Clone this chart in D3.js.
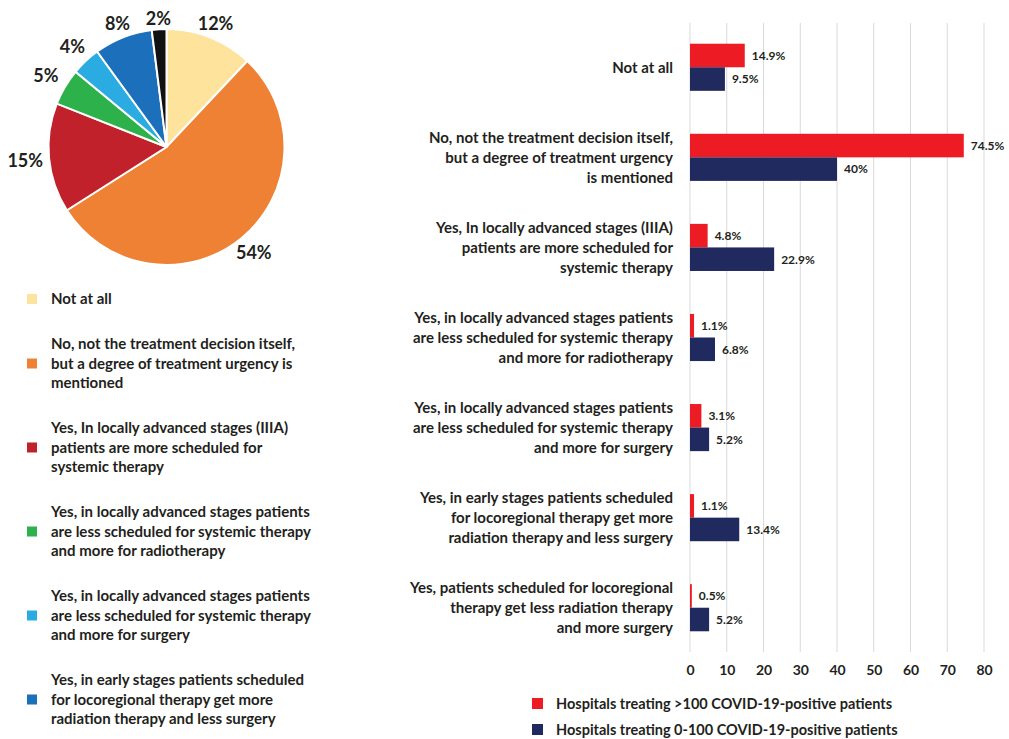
<!DOCTYPE html>
<html>
<head>
<meta charset="utf-8">
<script src="https://cdn.jsdelivr.net/npm/d3@7/dist/d3.min.js"></script>
<style>
  html, body { margin: 0; padding: 0; background: #fff; }
  svg { display: block; }
  text { font-family: Lato, "Open Sans", sans-serif; font-weight: 700; fill: #231f20; }
</style>
</head>
<body>
<svg id="chart" width="1009" height="739"></svg>
<script>
// ---- Pie: share of all responses ----
const pieCategories = [
  ["Not at all"],
  ["No, not the treatment decision itself,", "but a degree of treatment urgency is", "mentioned"],
  ["Yes, In locally advanced stages (IIIA)", "patients are more scheduled for", "systemic therapy"],
  ["Yes, in locally advanced stages patients", "are less scheduled for systemic therapy", "and more for radiotherapy"],
  ["Yes, in locally advanced stages patients", "are less scheduled for systemic therapy", "and more for surgery"],
  ["Yes, in early stages patients scheduled", "for locoregional therapy get more", "radiation therapy and less surgery"],
  ["Yes, patients scheduled for locoregional", "therapy get less radiation therapy", "and more surgery"]
];
const pieValues = [12, 54, 15, 5, 4, 8, 2];
const pieColors = ["#fde39b", "#ee8133", "#c1212a", "#2db24b", "#2aabe2", "#1c6fba", "#111111"];

// ---- Bars: answers split by hospital COVID-19 load ----
const barCategories = [
  ["Not at all"],
  ["No, not the treatment decision itself,", "but a degree of treatment urgency", "is mentioned"],
  ["Yes, In locally advanced stages (IIIA)", "patients are more scheduled for", "systemic therapy"],
  ["Yes, in locally advanced stages patients", "are less scheduled for systemic therapy", "and more for radiotherapy"],
  ["Yes, in locally advanced stages patients", "are less scheduled for systemic therapy", "and more for surgery"],
  ["Yes, in early stages patients scheduled", "for locoregional therapy get more", "radiation therapy and less surgery"],
  ["Yes, patients scheduled for locoregional", "therapy get less radiation therapy", "and more surgery"]
];
const seriesNames = ["Hospitals treating >100 COVID-19-positive patients",
                     "Hospitals treating 0-100 COVID-19-positive patients"];
const highLoad = [14.9, 74.5, 4.8, 1.1, 3.1, 1.1, 0.5];
const lowLoad  = [9.5, 40, 22.9, 6.8, 5.2, 13.4, 5.2];
const seriesColors = ["#ed1c24", "#212a5e"];
const xTicks = [0, 10, 20, 30, 40, 50, 60, 70, 80];

const W = 1009, H = 739;
const svg = d3.select("#chart");

// ===== Pie =====
const cx = 166.5, cy = 147, radius = 118;
const pieGen = d3.pie().sort(null).value(d => d);
const arcs = pieGen(pieValues);
const arcGen = d3.arc().innerRadius(0).outerRadius(radius);
const pieG = svg.append("g").attr("transform", `translate(${cx},${cy})`);
pieG.selectAll("path").data(arcs).join("path")
  .attr("d", arcGen)
  .attr("fill", (d, i) => pieColors[i])
  .attr("stroke", "#fff")
  .attr("stroke-width", 2);

function labelPos(d) {
  const a = (d.startAngle + d.endAngle) / 2;
  const r = 128 + 14 * Math.abs(Math.sin(a));
  return [r * Math.sin(a), -r * Math.cos(a)];
}
pieG.selectAll("text.pct").data(arcs).join("text")
  .attr("class", "pct")
  .attr("text-anchor", "middle")
  .attr("dy", "0.36em")
  .style("font-size", "18px")
  .attr("x", d => labelPos(d)[0])
  .attr("y", d => labelPos(d)[1])
  .text(d => d.data + "%");

// Pie legend (entries that fall below the page edge are left out)
const lineH = 19.5;
let ly = 299;
const legG = svg.append("g");
pieCategories.forEach((lines, i) => {
  const lastLine = ly + (lines.length - 1) * lineH;
  if (lastLine + 8 <= H) {
    const g = legG.append("g");
    const mid = ly + (lines.length - 1) * lineH / 2;
    g.append("rect").attr("x", 27).attr("y", mid - 5).attr("width", 10).attr("height", 10)
      .attr("fill", pieColors[i]);
    const t = g.append("text").attr("x", 51).style("font-size", "15px");
    lines.forEach((s, k) => {
      t.append("tspan").attr("x", 51).attr("y", ly + k * lineH).attr("dy", "0.36em").text(s);
    });
  }
  ly += lines.length * lineH + 25.5;
});

// ===== Bars =====
const x = d3.scaleLinear().domain([0, 80]).range([690, 984]);
const y = d3.scaleBand().domain(d3.range(barCategories.length))
  .range([23, 652]).paddingInner(0.477).paddingOuter(0.23);
const ySub = d3.scaleBand().domain([0, 1]).range([0, y.bandwidth()]);

// gridlines
svg.append("g").selectAll("line").data(xTicks).join("line")
  .attr("x1", d => x(d)).attr("x2", d => x(d))
  .attr("y1", 23).attr("y2", 652)
  .attr("stroke", "#d9d9d9").attr("stroke-width", 1);

// axis labels
const axis = d3.axisBottom(x).tickValues(xTicks).tickSize(0).tickPadding(0);
const axG = svg.append("g").attr("transform", "translate(0,665)").call(axis);
axG.select(".domain").remove();
axG.selectAll("text").style("font-size", "14px").style("font-family", "Lato, sans-serif")
  .style("font-weight", "700").attr("fill", "#231f20");

const rows = barCategories.map((c, i) => ({ i, vals: [highLoad[i], lowLoad[i]] }));
const rowG = svg.append("g").selectAll("g").data(rows).join("g")
  .attr("transform", d => `translate(0,${y(d.i)})`);

rowG.selectAll("rect").data(d => d.vals.map((v, s) => ({ v, s }))).join("rect")
  .attr("x", x(0))
  .attr("y", d => ySub(d.s))
  .attr("width", d => x(d.v) - x(0))
  .attr("height", ySub.bandwidth())
  .attr("fill", d => seriesColors[d.s]);

rowG.selectAll("text.val").data(d => d.vals.map((v, s) => ({ v, s }))).join("text")
  .attr("class", "val")
  .attr("x", d => x(d.v) + 7)
  .attr("y", d => ySub(d.s) + ySub.bandwidth() / 2)
  .attr("dy", "0.36em")
  .style("font-size", "12px")
  .text(d => d.v + "%");

// category labels
rowG.append("text")
  .attr("text-anchor", "end")
  .style("font-size", "15px")
  .each(function (d) {
    const lines = barCategories[d.i];
    const t = d3.select(this);
    const c = y.bandwidth() / 2;
    lines.forEach((s, k) => {
      t.append("tspan").attr("x", 673)
        .attr("y", c + (k - (lines.length - 1) / 2) * 20)
        .attr("dy", "0.36em").text(s);
    });
  });

// bar legend
const blg = svg.append("g");
seriesNames.forEach((n, s) => {
  const yy = 703.5 + s * 26;
  blg.append("rect").attr("x", 532).attr("y", yy - 5.5).attr("width", 11).attr("height", 11)
    .attr("fill", seriesColors[s]);
  blg.append("text").attr("x", 556).attr("y", yy).attr("dy", "0.36em")
    .style("font-size", "14.5px").text(n);
});
</script>
</body>
</html>
